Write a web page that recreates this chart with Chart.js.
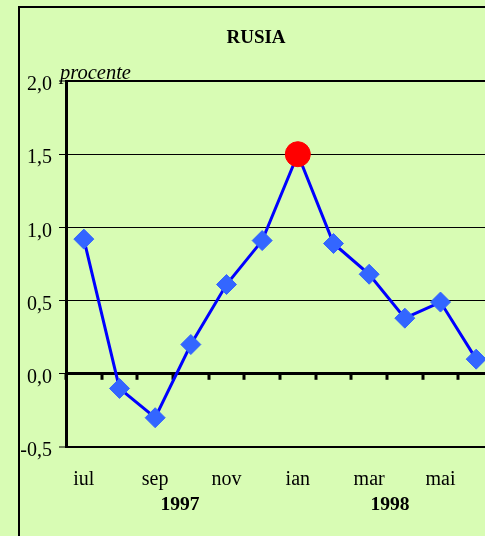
<!DOCTYPE html>
<html>
<head>
<meta charset="utf-8">
<script src="https://cdn.jsdelivr.net/npm/chart.js@4.4.0/dist/chart.umd.min.js"></script>
<style>
  html, body { margin: 0; padding: 0; overflow: hidden; background: #d8fcb4; }
  #wrap { position: relative; width: 510px; height: 536px; }
</style>
</head>
<body>
<div id="wrap"><canvas id="myChart"></canvas></div>
<script>
// luni iul 1997 - iun 1998
var months = ['iul', 'aug', 'sep', 'oct', 'nov', 'dec', 'ian', 'feb', 'mar', 'apr', 'mai', 'iun'];
var values = [0.92, -0.1, -0.3, 0.2, 0.61, 0.91, 1.5, 0.89, 0.68, 0.38, 0.49, 0.1];
var years = ['1997', '1998'];
var yTicks = [-0.5, 0, 0.5, 1, 1.5, 2];

var serif = '"Liberation Serif", "Times New Roman", serif';

// culoare / marime pentru fiecare punct (ian = cerc rosu)
var ptColors = values.map(function (v, i) { return i === 6 ? '#ff0000' : '#3366ff'; });
var ptStyles = values.map(function (v, i) { return i === 6 ? 'circle' : 'rectRot'; });
var ptRadius = values.map(function (v, i) { return i === 6 ? 12.5 : 10; });

var extras = {
    id: 'extras',
    beforeDraw: function (chart) {
        var c = chart.ctx;
        c.save();
        c.fillStyle = '#d8fcb4';
        c.fillRect(0, 0, chart.width, chart.height);
        c.strokeStyle = '#000';
        c.lineWidth = 2;
        c.strokeRect(19, 7, 600, 700);
        // titlu
        c.fillStyle = '#000';
        c.font = 'bold 19px ' + serif;
        c.textAlign = 'center';
        c.textBaseline = 'alphabetic';
        c.fillText('RUSIA', 256, 43);
        c.restore();
    },
    beforeDatasetsDraw: function (chart) {
        var c = chart.ctx;
        var x = chart.scales.x, y = chart.scales.y;
        var y0 = y.getPixelForValue(0);
        c.save();
        c.strokeStyle = '#000';
        c.lineWidth = 3;
        for (var i = 0; i <= months.length; i++) {
            var px = Math.round(x.getPixelForValue(i - 0.5));
            c.beginPath();
            c.moveTo(px, y0);
            c.lineTo(px, y0 + 6);
            c.stroke();
        }
        // procente
        c.fillStyle = '#000';
        c.font = 'italic 20.5px ' + serif;
        c.textAlign = 'left';
        c.textBaseline = 'alphabetic';
        c.fillText('procente', 60, 79);
        // ani
        c.font = 'bold 19.5px ' + serif;
        c.textAlign = 'center';
        c.textBaseline = 'middle';
        var x1997 = (x.getPixelForValue(2) + x.getPixelForValue(3)) / 2;
        var x1998 = (x.getPixelForValue(8) + x.getPixelForValue(9)) / 2;
        c.fillText(years[0], x1997 + 7, 505);
        c.fillText(years[1], x1998 + 3, 505);
        c.restore();
    }
};

var ctx = document.getElementById('myChart').getContext('2d');
var myChart = new Chart(ctx, {
    type: 'line',
    data: {
        labels: months,
        datasets: [{
            label: 'Rusia',
            data: values,
            borderColor: '#0000ff',
            borderWidth: 3,
            tension: 0,
            pointStyle: ptStyles,
            pointRadius: ptRadius,
            pointHoverRadius: ptRadius,
            pointBackgroundColor: ptColors,
            pointBorderColor: ptColors,
            pointBorderWidth: 1
        }]
    },
    options: {
        responsive: true,
        maintainAspectRatio: false,
        animation: false,
        layout: { padding: { left: 0, right: 16, top: 81, bottom: 0 } },
        plugins: {
            legend: { display: false },
            tooltip: { enabled: false },
            title: { display: false }
        },
        scales: {
            x: {
                type: 'category',
                offset: true,
                grid: { display: false, drawTicks: false },
                border: { display: false },
                ticks: {
                    color: '#000',
                    autoSkip: false,
                    maxRotation: 0,
                    padding: 21,
                    font: { family: serif, size: 20 },
                    callback: function (val, i) { return i % 2 === 0 ? months[i] : ''; }
                },
                afterFit: function (s) { s.height = 89; }
            },
            y: {
                min: -0.5,
                max: 2,
                afterBuildTicks: function (s) {
                    s.ticks = yTicks.map(function (v) { return { value: v }; });
                },
                grid: {
                    color: '#000',
                    lineWidth: function (c) {
                        var v = c.tick.value;
                        if (v === 0) return 3;
                        if (v === 2 || v === -0.5) return 2;
                        return 1;
                    },
                    tickLength: 7,
                    tickColor: '#000',
                    tickWidth: 1
                },
                border: { display: true, color: '#000', width: 3 },
                ticks: {
                    color: '#000',
                    padding: 7,
                    labelOffset: 4,
                    font: { family: serif, size: 20 },
                    callback: function (v) { return v.toFixed(1).replace('.', ','); }
                },
                afterFit: function (s) { s.width = 66; }
            }
        }
    },
    plugins: [extras]
});
</script>
</body>
</html>
